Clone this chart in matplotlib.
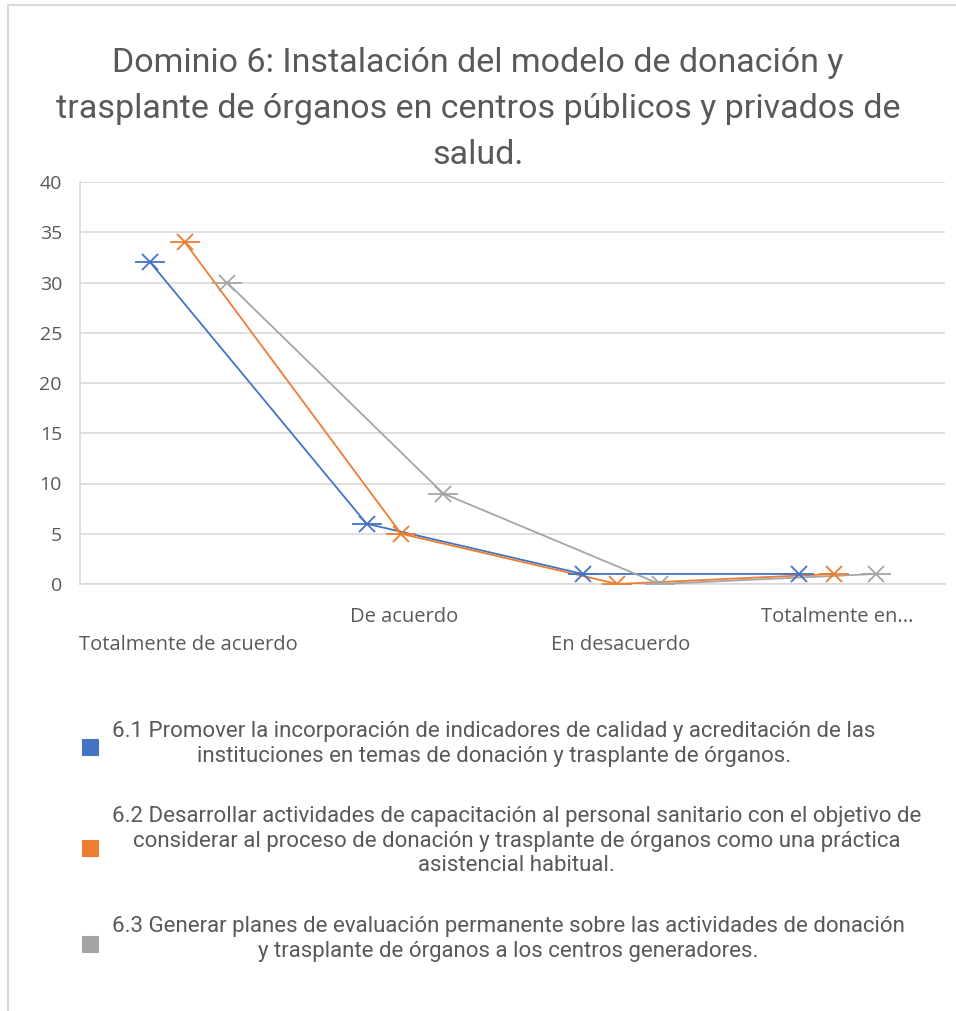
import matplotlib
matplotlib.use("Agg")
import matplotlib.pyplot as plt
import matplotlib.transforms as mtransforms
from matplotlib.patches import Rectangle
from matplotlib.lines import Line2D
import numpy as np

categories = ["Totalmente de acuerdo", "De acuerdo", "En desacuerdo", "Totalmente en..."]
serie_61 = [32, 6, 1, 1]
serie_62 = [34, 5, 0, 1]
serie_63 = [30, 9, 0, 1]
series_labels = [
    "6.1 Promover la incorporación de indicadores de calidad y acreditación de las\ninstituciones en temas de donación y trasplante de órganos.",
    "6.2 Desarrollar actividades de capacitación al personal sanitario con el objetivo de\nconsiderar al proceso de donación y trasplante de órganos como una práctica\nasistencial habitual.",
    "6.3 Generar planes de evaluación permanente sobre las actividades de donación\ny trasplante de órganos a los centros generadores.",
]
title = "Dominio 6: Instalación del modelo de donación y\ntrasplante de órganos en centros públicos y privados de\nsalud."
yticks = [0, 5, 10, 15, 20, 25, 30, 35, 40]

colors = ["#4472C4", "#ED7D31", "#A5A5A5"]
offsets = [-0.175, -0.015, 0.18]
text_color = "#595959"
grid_color = "#D9D9D9"

W, H = 956, 1011
fig = plt.figure(figsize=(W / 100, H / 100), dpi=100)
fig.patch.set_facecolor("white")

def fx(px):
    return px / W

def fy(py):
    return 1 - py / H

# chart frame (left & top border)
fig.add_artist(Line2D([fx(8), fx(8)], [fy(5), fy(1011)], color=grid_color, lw=1.5))
fig.add_artist(Line2D([fx(8), fx(956)], [fy(5), fy(5)], color=grid_color, lw=1.5))

ax = fig.add_axes([fx(80), fy(584), fx(945) - fx(80), fy(182) - fy(584)])
x = np.arange(len(categories))
for vals, c, off in zip([serie_61, serie_62, serie_63], colors, offsets):
    xs = x + off
    ax.plot(xs, vals, color=c, lw=1.3, zorder=3)
    ax.plot(xs, vals, ls="none", marker="x", ms=11, mew=1.3, color=c, zorder=4)
    ax.plot(xs, vals, ls="none", marker="_", ms=22, mew=1.3, color=c, zorder=4)

ax.set_xlim(-0.5, len(categories) - 0.5)
ax.set_ylim(0, 40)
ax.set_yticks(yticks)
ax.yaxis.grid(True, color=grid_color, lw=1.2)
ax.set_axisbelow(True)
for s in ["top", "right"]:
    ax.spines[s].set_visible(False)
ax.spines["left"].set_color(grid_color)
ax.spines["left"].set_linewidth(1.2)
ax.spines["bottom"].set_color(grid_color)
ax.spines["bottom"].set_linewidth(1.2)
ax.tick_params(axis="y", length=0, pad=13, labelsize=14, labelcolor=text_color)
for lab in ax.get_yticklabels():
    lab.set_fontfamily("Open Sans")
ax.set_xticks(x)
ax.set_xticklabels([])
ax.tick_params(axis="x", length=0)
blend = mtransforms.blended_transform_factory(ax.transData, fig.transFigure)
for i, cat in enumerate(categories):
    ypix = 645 if i % 2 == 0 else 617
    ax.text(i, fy(ypix), cat, transform=blend, ha="center", va="center",
            fontsize=14.5, color=text_color, family="Open Sans")

# title
fig.text(0.5, fy(109), title, ha="center", va="center", fontsize=24.5,
         color=text_color, family="Roboto", linespacing=1.57)

# legend
leg_text_y = [744, 841, 939]
key_y = [747, 848, 944]
for lbl, c, ty, ky in zip(series_labels, colors, leg_text_y, key_y):
    fig.add_artist(Rectangle((fx(82), fy(ky + 8)), fx(16), fy(ky - 8) - fy(ky + 8),
                             facecolor=c, edgecolor=c, lw=0.8))
    fig.text(fx(112), fy(ty), lbl, ha="left", va="center", multialignment="center",
             fontsize=16, color=text_color, family="Roboto", linespacing=1.2)

fig.savefig("out.png", dpi=100, facecolor="white")
